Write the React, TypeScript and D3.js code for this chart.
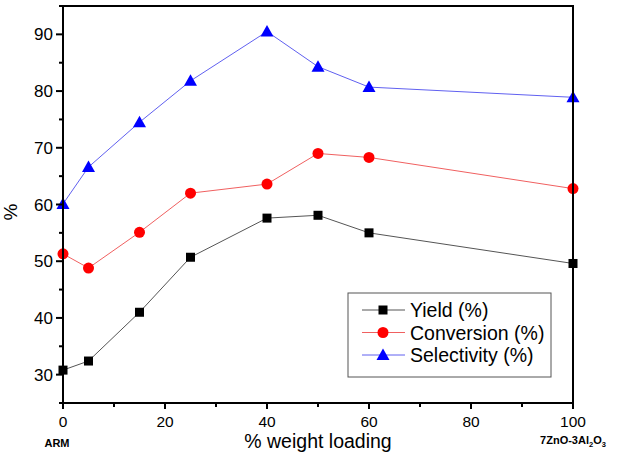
import React from "react";
import * as d3 from "d3";

const xs = [0, 5, 15, 25, 40, 50, 60, 100];
const yieldVals = [30.8, 32.4, 41.0, 50.7, 57.6, 58.1, 55.0, 49.6];
const conversionVals = [51.3, 48.8, 55.1, 62.0, 63.6, 69.0, 68.3, 62.8];
const selectivityVals = [60.1, 66.6, 74.5, 81.8, 90.5, 84.3, 80.7, 78.9];
const xTicks = [0, 20, 40, 60, 80, 100];
const yTicks = [30, 40, 50, 60, 70, 80, 90];
const legendLabels = ["Yield (%)", "Conversion (%)", "Selectivity (%)"];

const W = 617, H = 455;
const L = 63, R = 573, T = 6, B = 403;

export default function App() {
  const x = d3.scaleLinear().domain([0, 100]).range([L, R]);
  const y = d3.scaleLinear().domain([25, 95]).range([B, T]);
  const line = d3.line<number>().x((_, i) => x(xs[i])).y((d) => y(d));
  const font = "'Liberation Sans', Arial, sans-serif";
  const series = [
    { vals: yieldVals, line: "#555", fill: "#000", shape: "square" },
    { vals: conversionVals, line: "#f06060", fill: "#ff0000", shape: "circle" },
    { vals: selectivityVals, line: "#6060f0", fill: "#0000ff", shape: "tri" },
  ];
  const marker = (shape: string, cx: number, cy: number, fill: string, key: any) => {
    if (shape === "square") return <rect key={key} x={cx - 4.5} y={cy - 4.5} width={9} height={9} fill={fill} />;
    if (shape === "circle") return <circle key={key} cx={cx} cy={cy} r={5.5} fill={fill} />;
    return <path key={key} d={`M${cx},${cy - 6.5} L${cx + 6.5},${cy + 5} L${cx - 6.5},${cy + 5} Z`} fill={fill} />;
  };
  const minorX = d3.range(10, 100, 20);
  const minorY = d3.range(25, 96, 10);
  return (
    <svg width={W} height={H} style={{ position: "absolute", left: 0, top: 0 }} fontFamily={font}>
      <rect x={0} y={0} width={W} height={H} fill="#fff" />
      {series.map((s, si) => (
        <g key={si}>
          <path d={line(s.vals) || ""} fill="none" stroke={s.line} strokeWidth={1} />
          {s.vals.map((v, i) => marker(s.shape, x(xs[i]), y(v), s.fill, i))}
        </g>
      ))}
      <rect x={L} y={T} width={R - L} height={B - T} fill="none" stroke="#000" strokeWidth={2} />
      {yTicks.map((t) => (
        <g key={t}>
          <line x1={L - 7} x2={L} y1={y(t)} y2={y(t)} stroke="#000" strokeWidth={2} />
          <text x={L - 10} y={y(t)} dy="0.36em" textAnchor="end" fontSize={17}>{t}</text>
        </g>
      ))}
      {minorY.map((t) => (
        <line key={t} x1={L - 4} x2={L} y1={y(t)} y2={y(t)} stroke="#000" strokeWidth={2} />
      ))}
      {xTicks.map((t) => (
        <g key={t}>
          <line x1={x(t)} x2={x(t)} y1={B} y2={B + 6} stroke="#000" strokeWidth={2} />
          <text x={x(t)} y={B + 24} textAnchor="middle" fontSize={15.5}>{t}</text>
        </g>
      ))}
      {minorX.map((t) => (
        <line key={t} x1={x(t)} x2={x(t)} y1={B} y2={B + 4} stroke="#000" strokeWidth={2} />
      ))}
      <text x={318} y={448} textAnchor="middle" fontSize={19.5}>% weight loading</text>
      <text transform="translate(17,212) rotate(-90)" textAnchor="middle" fontSize={19}>%</text>
      <text x={57} y={447} textAnchor="middle" fontSize={11} fontWeight="bold">ARM</text>
      <text x={573} y={444} textAnchor="middle" fontSize={11} fontWeight="bold">
        7ZnO-3Al<tspan fontSize={7.5} dy={3}>2</tspan><tspan dy={-3}>O</tspan><tspan fontSize={7.5} dy={3}>3</tspan>
      </text>
      <rect x={348} y={293} width={203} height={84} fill="#fff" stroke="#555" strokeWidth={1} />
      {legendLabels.map((lab, i) => {
        const ly = 310 + i * 22.5;
        const s = series[i];
        return (
          <g key={lab}>
            <line x1={362} x2={405} y1={ly} y2={ly} stroke={s.line} strokeWidth={1} />
            {marker(s.shape, 383, ly, s.fill, "m")}
            <text x={410} y={ly} dy="0.36em" fontSize={19.5}>{lab}</text>
          </g>
        );
      })}
    </svg>
  );
}
